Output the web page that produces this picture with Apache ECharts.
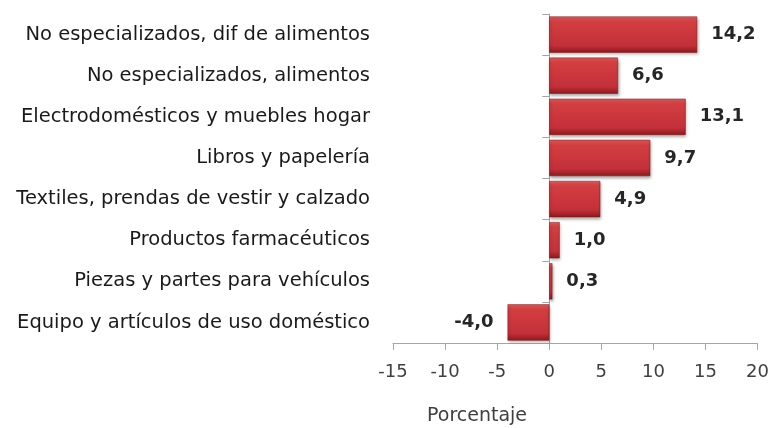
<!DOCTYPE html>
<html>
<head>
<meta charset="utf-8">
<script src="https://cdn.jsdelivr.net/npm/echarts@6/dist/echarts.min.js"></script>
<style>
    html, body { margin: 0; padding: 0; background: #fff; }
    #chart { width: 772px; height: 428px; }
</style>
</head>
<body>
<div id="chart"></div>
<script>
// Chart data
const categories = [
    'No especializados, dif de alimentos',
    'No especializados, alimentos',
    'Electrodomésticos y muebles hogar',
    'Libros y papelería',
    'Textiles, prendas de vestir y calzado',
    'Productos farmacéuticos',
    'Piezas y partes para vehículos',
    'Equipo y artículos de uso doméstico'
];
const values = [14.2, 6.6, 13.1, 9.7, 4.9, 1.0, 0.3, -4.0];
const axisMin = -15;
const axisMax = 20;
const axisStep = 5;
const axisTitle = 'Porcentaje';

const FONT = '"DejaVu Sans", sans-serif';

// Bevelled red look: light top edge, dark bottom edge
const barColor = new echarts.graphic.LinearGradient(0, 0, 0, 1, [
    { offset: 0, color: '#e65c5c' },
    { offset: 0.15, color: '#d23e40' },
    { offset: 0.8, color: '#c4303a' },
    { offset: 1, color: '#8e1a1b' }
]);

const chart = echarts.init(document.getElementById('chart'));

const option = {
    animation: false,
    title: {
        text: axisTitle,
        left: 427,
        top: 407,
        padding: 0,
        textStyle: { fontFamily: FONT, fontSize: 19, fontWeight: 'normal', color: '#404040' }
    },
    grid: { left: 393, right: 14, top: 14, bottom: 85 },
    xAxis: {
        type: 'value',
        min: axisMin,
        max: axisMax,
        interval: axisStep,
        axisLine: { show: true, onZero: false, lineStyle: { color: '#a6a6a6', width: 1 } },
        axisTick: { show: true, length: 7, lineStyle: { color: '#a6a6a6' } },
        splitLine: { show: false },
        axisLabel: { fontFamily: FONT, fontSize: 18, color: '#404040', margin: 20 }
    },
    yAxis: [
        {
            // labels only, at the left edge of the grid
            type: 'category',
            data: categories,
            inverse: true,
            axisLine: { show: false, onZero: false },
            axisTick: { show: false },
            axisLabel: { fontFamily: FONT, fontSize: 19.5, color: '#1a1a1a', margin: 23 }
        },
        {
            // axis line + ticks sitting on x = 0
            type: 'category',
            data: categories,
            inverse: true,
            position: 'left',
            axisLine: { show: true, onZero: true, lineStyle: { color: '#a6a6a6', width: 1 } },
            axisTick: { show: true, length: 7, lineStyle: { color: '#a6a6a6' } },
            axisLabel: { show: false }
        }
    ],
    series: [
        {
            type: 'bar',
            data: values.map(v => ({
                value: v,
                label: { position: v < 0 ? 'left' : 'right' }
            })),
            barCategoryGap: '12%',
            itemStyle: {
                color: barColor,
                borderColor: '#7a1516',
                borderWidth: 0.5,
                shadowColor: 'rgba(0,0,0,0.35)',
                shadowBlur: 3,
                shadowOffsetX: 1,
                shadowOffsetY: 2
            },
            label: {
                show: true,
                distance: 14,
                fontFamily: FONT,
                fontSize: 18,
                fontWeight: 'bold',
                color: '#262626',
                formatter: p => p.value.toFixed(1).replace('.', ',')
            }
        }
    ]
};

chart.setOption(option);
</script>
</body>
</html>
